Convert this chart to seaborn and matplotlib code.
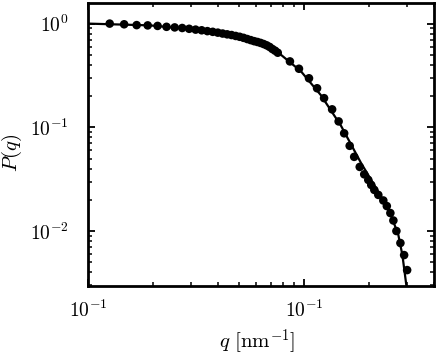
import matplotlib
matplotlib.use("Agg")
import matplotlib.pyplot as plt
import matplotlib.ticker as mticker
import seaborn as sns
import pandas as pd

# measured points
q_data = [0.0126, 0.0147, 0.0168, 0.0189, 0.0210, 0.0231, 0.0252, 0.0273, 0.0294, 0.0315,
          0.0336, 0.0357, 0.0378, 0.0399, 0.0420, 0.0441, 0.0462, 0.0483, 0.0504, 0.0525,
          0.0546, 0.0567, 0.0588, 0.0609, 0.0630, 0.0651, 0.0672, 0.0693, 0.0714, 0.0735,
          0.0756, 0.0861, 0.0948, 0.1055, 0.1150, 0.1239, 0.1350, 0.1447, 0.1535, 0.1628,
          0.1708, 0.1812, 0.1901, 0.1985, 0.2049, 0.2117, 0.2209, 0.2330, 0.2419, 0.2512,
          0.2594, 0.2679, 0.2796, 0.2909, 0.3004]
P_data = [1.000, 0.985, 0.967, 0.961, 0.950, 0.931, 0.919, 0.907, 0.891, 0.875,
          0.862, 0.846, 0.833, 0.818, 0.802, 0.788, 0.776, 0.760, 0.746, 0.729,
          0.710, 0.693, 0.677, 0.665, 0.651, 0.635, 0.617, 0.596, 0.569, 0.548,
          0.524, 0.432, 0.367, 0.297, 0.238, 0.191, 0.149, 0.114, 0.0875, 0.0663,
          0.0519, 0.0415, 0.0352, 0.0311, 0.0278, 0.0249, 0.0223, 0.0197, 0.0174, 0.0149,
          0.01263, 0.0100, 0.00766, 0.00586, 0.00420]

# fitted curve
q_fit = [0.0100, 0.0194, 0.0332, 0.0509, 0.0666, 0.0781, 0.0968, 0.1198, 0.1484,
         0.1836, 0.2272, 0.2538, 0.2735, 0.2856, 0.2982, 0.3029]
P_fit = [1.000, 0.961, 0.865, 0.736, 0.620, 0.502, 0.347, 0.204, 0.1035,
         0.0454, 0.0216, 0.0139, 0.00916, 0.00586, 0.00294, 0.00215]

x_ticks = [0.01, 0.1]
x_ticklabels = [r"$10^{-1}$", r"$10^{-1}$"]
y_ticks = [1e-2, 1e-1, 1e0]
y_ticklabels = [r"$10^{-2}$", r"$10^{-1}$", r"$10^{0}$"]

sns.set_style("ticks")
plt.rcParams["mathtext.fontset"] = "cm"
plt.rcParams["font.family"] = ["DejaVu Serif"]
plt.rcParams["axes.edgecolor"] = "black"
plt.rcParams["xtick.color"] = "black"
plt.rcParams["ytick.color"] = "black"
plt.rcParams["text.color"] = "black"
plt.rcParams["axes.labelcolor"] = "black"

df_data = pd.DataFrame({"q": q_data, "P": P_data})
df_fit = pd.DataFrame({"q": q_fit, "P": P_fit})

fig = plt.figure(figsize=(4.36, 3.59), dpi=100)
ax = fig.add_axes([88/436, 1 - 286/359, (434 - 88)/436, (286 - 3)/359])

sns.lineplot(data=df_fit, x="q", y="P", ax=ax, color="black", linewidth=1.6,
             sort=False, estimator=None, zorder=2)
sns.scatterplot(data=df_data, x="q", y="P", ax=ax, color="black", s=38,
                edgecolor="none", zorder=3)

ax.set_xscale("log")
ax.set_yscale("log")
ax.set_xlim(0.01, 0.4)
ax.set_ylim(0.00295, 1.58)

ax.xaxis.set_major_locator(mticker.FixedLocator(x_ticks))
ax.xaxis.set_major_formatter(mticker.FixedFormatter(x_ticklabels))
ax.xaxis.set_minor_locator(mticker.LogLocator(base=10, subs=range(2, 10), numticks=20))
ax.xaxis.set_minor_formatter(mticker.NullFormatter())
ax.yaxis.set_major_locator(mticker.FixedLocator(y_ticks))
ax.yaxis.set_major_formatter(mticker.FixedFormatter(y_ticklabels))
ax.yaxis.set_minor_locator(mticker.LogLocator(base=10, subs=range(2, 10), numticks=20))
ax.yaxis.set_minor_formatter(mticker.NullFormatter())

ax.tick_params(which="both", direction="in", top=True, right=True, labelsize=14,
               color="black", labelcolor="black")
ax.tick_params(which="major", length=5, width=1.3)
ax.tick_params(which="minor", length=3, width=1.1)
ax.tick_params(axis="y", which="major", pad=14)
ax.tick_params(axis="x", which="major", pad=10)

for sp in ax.spines.values():
    sp.set_linewidth(2)
    sp.set_color("black")
    sp.set_visible(True)

ax.set_xlabel(r"$q\ [\mathrm{nm}^{-1}]$", fontsize=15, color="black")
ax.set_ylabel(r"$P(q)$", fontsize=15, color="black")
ax.xaxis.set_label_coords(0.49, -0.145)
ax.yaxis.set_label_coords(-0.185, 0.47)

fig.savefig("out.png", dpi=100)
